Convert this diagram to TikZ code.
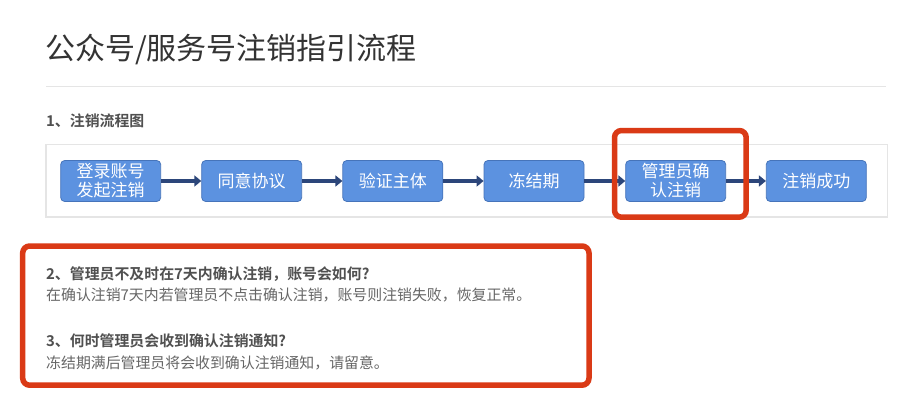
\documentclass[tikz,border=0pt]{standalone}
\usepackage{fontspec}
\setmainfont{Noto Sans CJK SC}
\newfontfamily\cjk{Noto Sans CJK SC}[BoldFont={* Bold}]
\usepackage{tikz}
\usetikzlibrary{arrows.meta,positioning,calc}
\usepackage{xcolor}
\definecolor{titlegray}{RGB}{51,51,51}
\definecolor{headgray}{RGB}{80,80,80}
\definecolor{bodygray}{RGB}{102,102,102}
\definecolor{rulegray}{RGB}{229,229,229}
\definecolor{stepblue}{RGB}{92,146,224}
\definecolor{stepborder}{RGB}{70,116,186}
\definecolor{arrownavy}{RGB}{44,70,122}
\definecolor{markred}{RGB}{218,58,22}
\tikzset{
    stepbox/.style={
        rectangle,
        rounded corners=4pt,
        draw=stepborder,
        fill=stepblue,
        line width=0.8pt,
        minimum width=100pt,
        minimum height=41pt,
        inner sep=1pt,
        align=center,
        text=white,
        font=\cjk\fontsize{17}{19}\selectfont
    },
    flowarrow/.style={
        -{Triangle[length=7pt,width=11pt]},
        arrownavy,
        line width=4pt
    },
    markbox/.style={
        draw=markred,
        line width=5.5pt,
        rounded corners=7pt
    },
    headtext/.style={
        anchor=west,
        inner sep=0pt,
        text=headgray,
        font=\cjk\bfseries\fontsize{14.9}{17}\selectfont
    },
    bodytext/.style={
        anchor=west,
        inner sep=0pt,
        text=bodygray,
        font=\cjk\fontsize{14.9}{17}\selectfont
    }
}
\begin{document}
\begin{tikzpicture}[x=1pt,y=-1pt]
    \useasboundingbox[fill=white] (0,0) rectangle (922,404);

    % Title and rule
    \node[anchor=west, inner sep=0pt, text=titlegray, font=\cjk\fontsize{30}{32}\selectfont] (title) at (45,49.5) {公众号/服务号注销指引流程};
    \draw[rulegray, line width=1pt] (46,87) -- (886,87);

    % Flow chart
    \node[headtext] (head1) at (46,120.7) {1、注销流程图};
    \draw[rulegray, line width=1.2pt] (46,144.5) rectangle (887.5,217);
    \node[stepbox] (login) at (110.7,181) {登录账号\\发起注销};
    \node[stepbox] (agree) at (251.7,181) {同意协议};
    \node[stepbox] (verify) at (392.8,181) {验证主体};
    \node[stepbox] (freeze) at (534,181) {冻结期};
    \node[stepbox] (confirm) at (675.7,181) {管理员确\\认注销};
    \node[stepbox] (done) at (816.3,181) {注销成功};

    % Connections
    \draw[flowarrow] (login) -- (agree);
    \draw[flowarrow] (agree) -- (verify);
    \draw[flowarrow] (verify) -- (freeze);
    \draw[flowarrow] (freeze) -- (confirm);
    \draw[flowarrow] (confirm) -- (done);

    % Highlight on the confirm step
    \draw[markbox] (614.5,130.5) rectangle (746.2,217.2);

    % Questions
    \draw[markbox] (22.7,246) rectangle (589,385.2);
    \node[headtext] (q2) at (46,274) {2、管理员不及时在7天内确认注销，账号会如何?};
    \node[bodytext] (a2) at (46,295.5) {在确认注销7天内若管理员不点击确认注销，账号则注销失败，恢复正常。};
    \node[headtext] (q3) at (46,340.5) {3、何时管理员会收到确认注销通知?};
    \node[bodytext] (a3) at (46,363) {冻结期满后管理员将会收到确认注销通知，请留意。};
\end{tikzpicture}
\end{document}
